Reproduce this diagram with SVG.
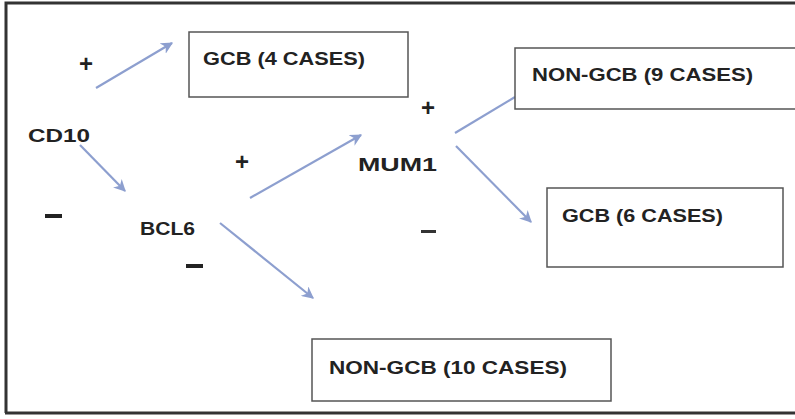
<svg xmlns="http://www.w3.org/2000/svg" width="795" height="419" viewBox="0 0 795 419">
<style>
.t{font-family:"Liberation Sans",Arial,sans-serif;font-weight:bold;font-size:18.5px;fill:#222}
.s{font-family:"Liberation Sans",Arial,sans-serif;font-weight:bold;font-size:24px;fill:#222}
.box{fill:#fff;stroke:#555;stroke-width:1.5}
.c{stroke:#8d9fcf;stroke-width:2.2;fill:none}
</style>
<defs>
<marker id="ah" viewBox="0 0 10 10" refX="9" refY="5" markerWidth="5.5" markerHeight="5.5" orient="auto" markerUnits="strokeWidth">
<path d="M0,0 L10,5 L0,10 L3,5 Z" fill="#8d9fcf"/>
</marker>
</defs>
<rect width="795" height="419" fill="#fff"/>
<path d="M6,413 V3 H795" fill="none" stroke="#333" stroke-width="3"/>
<line x1="5" y1="413" x2="795" y2="413" stroke="#333" stroke-width="3"/>
<g id="connectors">
<line class="c" x1="96" y1="88" x2="172" y2="43" marker-end="url(#ah)"/>
<line class="c" x1="80" y1="145" x2="125" y2="191" marker-end="url(#ah)"/>
<line class="c" x1="250" y1="198" x2="361" y2="135" marker-end="url(#ah)"/>
<line class="c" x1="220" y1="223" x2="313" y2="298" marker-end="url(#ah)"/>
<line class="c" x1="455" y1="133" x2="515" y2="97"/>
<line class="c" x1="456" y1="146" x2="531" y2="222" marker-end="url(#ah)"/>
</g>
<g id="cd10"><text class="t" x="28" y="142" textLength="62" lengthAdjust="spacingAndGlyphs">CD10</text></g>
<g id="bcl6"><text class="t" x="140" y="235" textLength="55" lengthAdjust="spacingAndGlyphs">BCL6</text></g>
<g id="mum1"><text class="t" x="358" y="171" textLength="79" lengthAdjust="spacingAndGlyphs">MUM1</text></g>
<g id="gcb4">
<rect class="box" x="189" y="32" width="219" height="65"/>
<text class="t" x="203" y="65" textLength="162" lengthAdjust="spacingAndGlyphs">GCB (4 CASES)</text>
</g>
<g id="nongcb9">
<rect class="box" x="515" y="48" width="285" height="61"/>
<text class="t" x="532" y="81" textLength="221" lengthAdjust="spacingAndGlyphs">NON-GCB (9 CASES)</text>
</g>
<g id="gcb6">
<rect class="box" x="547" y="188" width="236" height="79"/>
<text class="t" x="562" y="222" textLength="161" lengthAdjust="spacingAndGlyphs">GCB (6 CASES)</text>
</g>
<g id="nongcb10">
<rect class="box" x="312" y="339" width="299" height="62"/>
<text class="t" x="329" y="374" textLength="238" lengthAdjust="spacingAndGlyphs">NON-GCB (10 CASES)</text>
</g>
<g id="signs">
<text class="s" x="86" y="72" text-anchor="middle">+</text>
<text class="s" x="242" y="170" text-anchor="middle">+</text>
<text class="s" x="428" y="116" text-anchor="middle">+</text>
<rect x="45" y="214" width="17" height="4" fill="#222"/>
<rect x="186" y="264" width="17" height="4" fill="#222"/>
<rect x="421" y="230" width="15" height="3" fill="#333"/>
</g>
</svg>
